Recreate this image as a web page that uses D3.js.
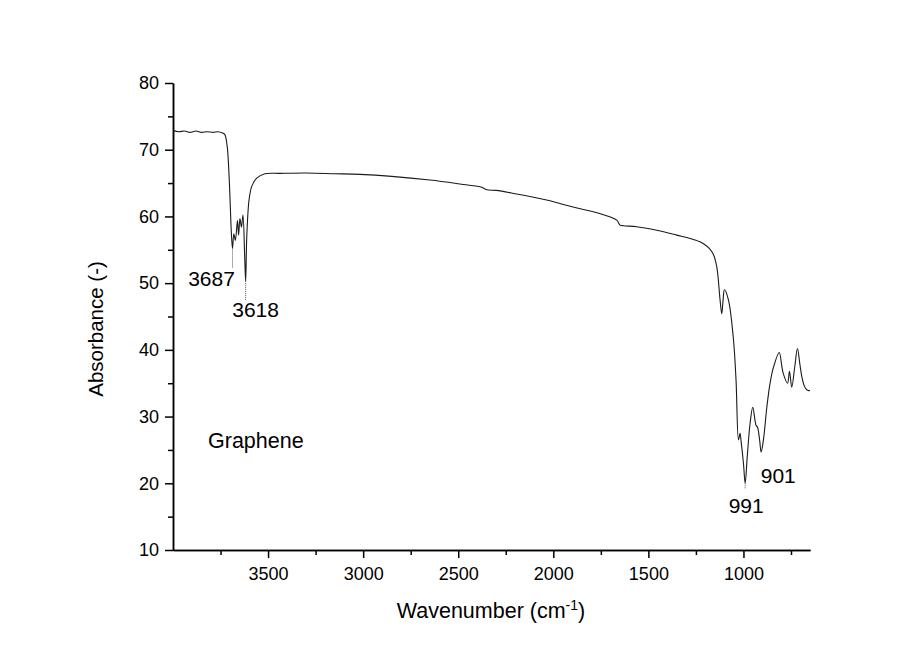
<!DOCTYPE html>
<html lang="en">
<head>
  <meta charset="UTF-8">
  <title>Graphene FTIR</title>
<style>
  body { margin: 0; background: #fff; }
  svg text { font-family: Arial, "Liberation Sans", sans-serif; fill: #000; }
</style>
</head>
<body>

<svg id="chart" width="922" height="650"></svg>

<script src="https://cdn.jsdelivr.net/npm/d3@7"></script>

<script>

// spectrum (wavenumber in cm-1, absorbance)
var wavenumber = [4000, 3970, 3940, 3910, 3880, 3850, 3820, 3790, 3760, 3740, 3728, 3715, 3705,
  3698, 3693, 3687, 3680, 3672, 3661, 3655, 3648, 3640, 3632, 3623, 3618, 3612, 3600, 3586, 3561,
  3517, 3438, 3300, 3150, 3017, 2850, 2649, 2500, 2380, 2350, 2300, 2200, 2035, 1966, 1880, 1790,
  1700, 1665, 1649, 1630, 1561, 1450, 1350, 1280, 1229, 1210, 1180, 1158, 1140, 1123, 1114, 1107,
  1100, 1079, 1053, 1039, 1026, 1018, 1012, 1000, 991, 980, 965, 951, 934, 926, 915, 907, 895,
  877, 860, 842, 812, 798, 790, 768, 758, 746, 730, 716, 703, 693, 680, 670, 660, 650];
var absorbance = [72.9, 72.7, 72.8, 72.6, 72.8, 72.6, 72.7, 72.6, 72.7, 72.5, 72.3, 70.5, 66,
  61, 57.5, 55.2, 57.4, 56.4, 59.4, 57.2, 59.7, 58.4, 60.2, 54, 50.3, 57, 62.5, 64.5, 65.7,
  66.4, 66.45, 66.5, 66.4, 66.3, 66, 65.45, 64.9, 64.4, 64, 63.9, 63.4, 62.45, 61.95, 61.3, 60.7,
  59.9, 59.4, 58.7, 58.6, 58.45, 57.9, 57.2, 56.7, 56.2, 55.9, 55.2, 54.3, 52.4, 47.5, 45.4, 47.5,
  49, 47.5, 41.7, 35.5, 26.5, 27.5, 26.2, 23, 20, 24, 29, 31.4, 28.7, 28.4, 26.5, 24.7, 26.5,
  31.4, 35, 37.4, 39.6, 37.5, 36.4, 35, 36.8, 34.4, 37.5, 40.2, 37.8, 36, 34.6, 34.1, 33.9, 33.9];

var peakWave = [3687, 3618, 991, 901];
var peakText = ["3687", "3618", "991", "901"];
var peakValue = [55.2, 50.3, 20, 24.7];

var xTicks = [3500, 3000, 2500, 2000, 1500, 1000];
var xMinorTicks = [3750, 3250, 2750, 2250, 1750, 1250, 750];
var yTicks = [10, 20, 30, 40, 50, 60, 70, 80];
var yMinorTicks = [15, 25, 35, 45, 55, 65, 75];

var svg = d3.select("#chart"),
  plotLeft = 173, plotRight = 810, plotTop = 83, plotBottom = 550;

var x = d3.scaleLinear().domain([4000, 650]).range([plotLeft, plotRight]);
var y = d3.scaleLinear().domain([10, 80]).range([plotBottom, plotTop]);

var data = wavenumber.map(function (w, i) { return [w, absorbance[i]]; });

// axes
svg.append("g")
  .attr("transform", "translate(0," + plotBottom + ")")
  .call(d3.axisBottom(x).tickValues(xTicks).tickFormat(d3.format("d"))
    .tickSize(8).tickPadding(9).tickSizeOuter(0));
svg.append("g")
  .attr("transform", "translate(0," + plotBottom + ")")
  .call(d3.axisBottom(x).tickValues(xMinorTicks).tickSize(5).tickFormat("").tickSizeOuter(0));

svg.append("g")
  .attr("transform", "translate(" + plotLeft + ",0)")
  .call(d3.axisLeft(y).tickValues(yTicks).tickFormat(d3.format("d"))
    .tickSize(8).tickPadding(6).tickSizeOuter(0));
svg.append("g")
  .attr("transform", "translate(" + plotLeft + ",0)")
  .call(d3.axisLeft(y).tickValues(yMinorTicks).tickSize(5).tickFormat("").tickSizeOuter(0));

svg.selectAll(".domain").attr("stroke", "#000").attr("stroke-width", 1.5);
svg.selectAll(".tick line").attr("stroke", "#000").attr("stroke-width", 1.5);
svg.selectAll(".tick text").attr("font-size", 18).attr("font-family", "Arial, sans-serif");

// axis titles
svg.append("text")
  .attr("x", 491).attr("y", 618)
  .attr("text-anchor", "middle")
  .attr("font-size", 21.5)
  .html('Wavenumber (cm<tspan dy="-8" font-size="14">-1</tspan><tspan dy="8">)</tspan>');

svg.append("text")
  .attr("transform", "translate(103,329) rotate(-90)")
  .attr("text-anchor", "middle")
  .attr("font-size", 20.5)
  .text("Absorbance (-)");

// spectrum
var line = d3.line()
  .curve(d3.curveCatmullRom.alpha(0.5))
  .x(function (d) { return x(d[0]); })
  .y(function (d) { return y(d[1]); });

svg.append("path")
  .datum(data)
  .attr("fill", "none")
  .attr("stroke", "#1a1a1a")
  .attr("stroke-width", 1.1)
  .attr("d", line);

// peak labels with dotted leaders
var labelDrop = [19, 19, 6, 0];
var labelDx = [-21, 10, 1, 16];
var labelDy = [38, 36, 30, 31];

peakWave.forEach(function (w, i) {
  var px = x(w), py = y(peakValue[i]);
  if (labelDrop[i] > 0) {
    svg.append("line")
      .attr("x1", px).attr("x2", px)
      .attr("y1", py).attr("y2", py + labelDrop[i])
      .attr("stroke", "#555")
      .attr("stroke-width", 1)
      .attr("stroke-dasharray", "1,1");
  }
  svg.append("text")
    .attr("x", px + labelDx[i])
    .attr("y", py + labelDy[i])
    .attr("text-anchor", "middle")
    .attr("font-size", 21)
    .text(peakText[i]);
});

svg.append("text")
  .attr("x", 208).attr("y", 448)
  .attr("font-size", 21.5)
  .text("Graphene");

</script>

</body>
</html>
